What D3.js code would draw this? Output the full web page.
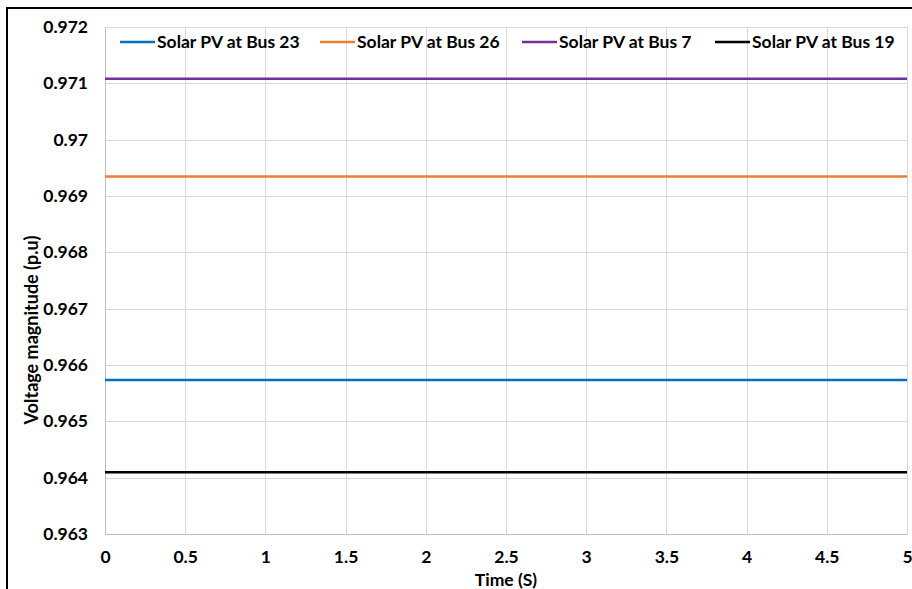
<!DOCTYPE html>
<html>
<head>
<meta charset="utf-8">
<script src="https://d3js.org/d3.v7.min.js"></script>
<style>
body { margin: 0; background: white; }
svg { display: block; font-family: Lato, "Open Sans", sans-serif; font-weight: bold; }
</style>
</head>
<body>
<svg id="chart" width="912" height="589"></svg>
<script>
// data
var seriesNames = ["Solar PV at Bus 23", "Solar PV at Bus 26", "Solar PV at Bus 7", "Solar PV at Bus 19"];
var seriesColors = ["#0070C0", "#ED7D31", "#7030A0", "#000000"];
var seriesValues = [0.965734, 0.969348, 0.971083, 0.964094];
var timePoints = [0, 0.5, 1, 1.5, 2, 2.5, 3, 3.5, 4, 4.5, 5];
var xTicks = [0, 0.5, 1, 1.5, 2, 2.5, 3, 3.5, 4, 4.5, 5];
var yTicks = [0.963, 0.964, 0.965, 0.966, 0.967, 0.968, 0.969, 0.97, 0.971, 0.972];

var svg = d3.select("#chart");
var plotLeft = 105, plotRight = 907, plotTop = 27, plotBottom = 534;

var x = d3.scaleLinear().domain([0, 5]).range([plotLeft, plotRight]);
var y = d3.scaleLinear().domain([0.963, 0.972]).range([plotBottom, plotTop]);

// outer chart border
svg.append("rect")
  .attr("x", 7).attr("y", 8)
  .attr("width", 920).attr("height", 600)
  .attr("fill", "none")
  .attr("stroke", "#000")
  .attr("stroke-width", 2);

// grid
svg.append("g").selectAll("line")
  .data(yTicks)
  .enter().append("line")
  .attr("x1", plotLeft).attr("x2", plotRight)
  .attr("y1", function(d) { return Math.round(y(d)) + 0.5; })
  .attr("y2", function(d) { return Math.round(y(d)) + 0.5; })
  .attr("stroke", "#d9d9d9");

svg.append("g").selectAll("line")
  .data(xTicks)
  .enter().append("line")
  .attr("y1", plotTop).attr("y2", plotBottom)
  .attr("x1", function(d) { return Math.round(x(d)) + 0.5; })
  .attr("x2", function(d) { return Math.round(x(d)) + 0.5; })
  .attr("stroke", "#d9d9d9");

// axes
var xAxis = d3.axisBottom(x).tickValues(xTicks).tickSize(0).tickPadding(17)
  .tickFormat(function(d) { return d; });
svg.append("g")
  .attr("transform", "translate(0," + plotBottom + ")")
  .call(xAxis)
  .call(function(g) {
    g.select(".domain").attr("stroke", "#bfbfbf");
    g.selectAll("text").style("font", "bold 17.5px Lato, sans-serif").attr("fill", "#000");
  });

var yAxis = d3.axisLeft(y).tickValues(yTicks).tickSize(0).tickPadding(17)
  .tickFormat(function(d) { return +d.toFixed(3); });
svg.append("g")
  .attr("transform", "translate(" + plotLeft + ",0)")
  .call(yAxis)
  .call(function(g) {
    g.select(".domain").attr("stroke", "#bfbfbf");
    g.selectAll("text").style("font", "bold 17.5px Lato, sans-serif").attr("fill", "#000");
  });

// series lines
var line = d3.line()
  .x(function(d) { return x(d.t); })
  .y(function(d) { return y(d.v); });

seriesNames.forEach(function(name, i) {
  var pts = timePoints.map(function(t) { return { t: t, v: seriesValues[i] }; });
  svg.append("path")
    .datum(pts)
    .attr("d", line)
    .attr("fill", "none")
    .attr("stroke", seriesColors[i])
    .attr("stroke-width", 2.5);
});

// legend
var legendX = [120, 320, 522, 715];
var legend = svg.append("g");
seriesNames.forEach(function(name, i) {
  legend.append("line")
    .attr("x1", legendX[i]).attr("x2", legendX[i] + 35)
    .attr("y1", 42).attr("y2", 42)
    .attr("stroke", seriesColors[i])
    .attr("stroke-width", 2.5);
  legend.append("text")
    .attr("x", legendX[i] + 37).attr("y", 48)
    .style("font", "bold 17.5px Lato, sans-serif")
    .text(name);
});

// axis titles
svg.append("text")
  .attr("x", 506).attr("y", 586)
  .attr("text-anchor", "middle")
  .style("font", "bold 17.5px Lato, sans-serif")
  .text("Time (S)");

svg.append("text")
  .attr("transform", "translate(38,330) rotate(-90)")
  .attr("text-anchor", "middle")
  .style("font", "bold 18px Lato, sans-serif")
  .text("Voltage magnitude (p.u)");
</script>
</body>
</html>
